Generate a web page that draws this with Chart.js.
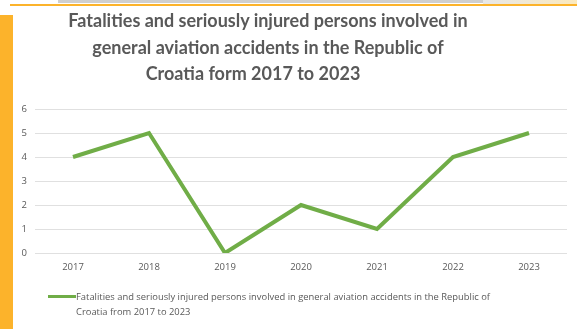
<!DOCTYPE html>
<html>
<head>
<meta charset="utf-8">
<script src="https://cdn.jsdelivr.net/npm/chart.js@4.4.0/dist/chart.umd.min.js"></script>
<style>
  body { margin: 0; background: #fff; }
  #wrap { position: relative; width: 577px; height: 329px; overflow: hidden; background: #fff; }
  .topband { position: absolute; left: 58px; top: 0; width: 425px; height: 3px; background: #cfcfcf; }
  .topright { position: absolute; left: 483px; top: 0; width: 94px; height: 6px; background: linear-gradient(to right, #e8e8e8, #fbe9bd); }
  .topline { position: absolute; left: 10px; top: 4px; width: 567px; height: 2px; background: #fcb32b; }
  .leftbar { position: absolute; left: 0; top: 15px; width: 13px; height: 314px; background: #fcb32b; }
  #chart { position: absolute; left: 0; top: 0; }
  #title { position: absolute; left: 0; top: 7px; width: 536px; text-align: center;
           font-family: Lato, sans-serif; font-weight: bold; font-size: 18px; line-height: 26.5px; color: #595959; }
  #legend { position: absolute; left: 48px; top: 289px; font-family: "Open Sans", sans-serif; font-size: 9.4px; color: #595959; }
  #legend .item { display: flex; align-items: flex-start; }
  #legend .swatch { width: 28px; height: 3px; margin-top: 6px; flex: none; }
  #legend .text { width: 440px; line-height: 15px; }
</style>
</head>
<body>
<div id="wrap">
  <div class="topband"></div>
  <div class="topright"></div>
  <div class="topline"></div>
  <div class="leftbar"></div>
  <canvas id="chart" width="577" height="329"></canvas>
  <div id="title"></div>
  <div id="legend"></div>
</div>
<script>
const years = ["2017", "2018", "2019", "2020", "2021", "2022", "2023"];
const casualties = [4, 5, 0, 2, 1, 4, 5];
const titleLines = [
  "Fatalities and seriously injured persons involved in",
  "general aviation accidents in the Republic of",
  "Croatia form 2017 to 2023"
];
const seriesLabel = "Fatalities and seriously injured persons involved in general aviation accidents in the Republic of Croatia from 2017 to 2023";

const green = "#70ad47";
const textGray = "#595959";

const ctx = document.getElementById("chart").getContext("2d");
const chart = new Chart(ctx, {
  type: "line",
  data: {
    labels: years,
    datasets: [
      {
        label: seriesLabel,
        data: casualties,
        borderColor: green,
        backgroundColor: green,
        borderWidth: 4,
        pointRadius: 0,
        tension: 0,
      },
    ],
  },
  options: {
    responsive: false,
    animation: false,
    layout: {
      padding: { left: 13, right: 10, top: 109, bottom: 56 },
    },
    plugins: {
      legend: { display: false },
      tooltip: { enabled: false },
      title: { display: false },
    },
    scales: {
      x: {
        offset: true,
        afterFit: (scale) => { scale.height = 20; },
        grid: { display: false, drawTicks: false },
        border: { display: false },
        ticks: { color: textGray, font: { family: "Open Sans", size: 9.5 }, padding: 9 },
      },
      y: {
        min: 0,
        max: 6,
        afterFit: (scale) => { scale.width = 22; },
        grid: { color: "#e0e0e0", drawTicks: false },
        border: { display: false },
        ticks: { stepSize: 1, color: textGray, font: { family: "Open Sans", size: 9.5 }, padding: 8 },
      },
    },
  },
});

// title as wrapped text, centred a little left of the card like the original
const titleEl = document.getElementById("title");
titleLines.forEach((line, i) => {
  const d = document.createElement("div");
  d.textContent = line;
  if (i === titleLines.length - 1) d.style.paddingRight = "30px";
  titleEl.appendChild(d);
});

// custom legend, so the long label can wrap like the original
const legendEl = document.getElementById("legend");
chart.data.datasets.forEach((ds) => {
  const item = document.createElement("div");
  item.className = "item";
  item.innerHTML = '<span class="swatch" style="background:' + ds.borderColor + '"></span><span class="text">' + ds.label + '</span>';
  legendEl.appendChild(item);
});
</script>
</body>
</html>
